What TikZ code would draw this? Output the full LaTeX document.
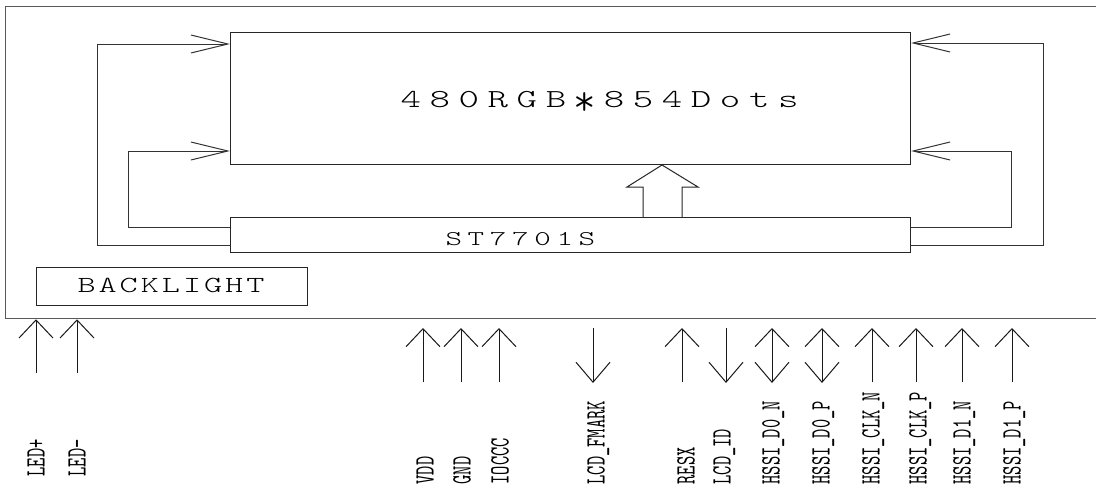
\documentclass[tikz,border=0pt]{standalone}
\usepackage{fontspec}
\usetikzlibrary{arrows.meta}
\newfontfamily\dispfam[FakeStretch=1.5,LetterSpace=33]{lmmonolt10-regular.otf}
\newfontfamily\icfam[FakeStretch=1.5,LetterSpace=27]{lmmonolt10-regular.otf}
\newfontfamily\blfam[FakeStretch=1.5,LetterSpace=13]{lmmonolt10-regular.otf}
\newfontfamily\labfam{lmmono10-regular.otf}
\begin{document}
\begin{tikzpicture}[x=1pt,y=-1pt,line width=1pt,
  box/.style={draw=black!85,inner sep=0pt,anchor=north west},
  loopline/.style={draw=black!80,-{Straight Barb[length=37pt,width=18pt]}},
  pinup/.style={draw=black!90,-{Straight Barb[length=18pt,width=34pt]}},
  pinboth/.style={draw=black!90,{Straight Barb[length=18pt,width=34pt]}-{Straight Barb[length=20pt,width=34pt]}},
  pinlabel/.style={rotate=90,anchor=base west,inner sep=0pt,font=\labfam\fontsize{28}{28}\selectfont},
  txt/.style={anchor=base west,inner sep=0pt}]
\useasboundingbox (0,0) rectangle (1096,490);
\fill[white] (0,0) rectangle (1096,490);
% boxes
\node[box,draw=black!65,line width=1.3pt,minimum width=1091pt,minimum height=312pt] (module) at (5,6) {};
\node[box,minimum width=680pt,minimum height=132pt] (panel) at (230,32) {};
\node[box,minimum width=680pt,minimum height=35pt] (ic) at (230,217) {};
\node[box,minimum width=271pt,minimum height=38pt] (bl) at (36,267) {};
% texts
\node[txt,font=\dispfam\fontsize{26}{26}\selectfont] (paneltext) at (400,107) {480RGB\kern7pt\raisebox{-8pt}{\scalebox{1.1}[1.7]{*}}\kern8pt 854Dots};
\node[txt,font=\icfam\fontsize{21}{21}\selectfont] (ictext) at (445,245) {ST7701S};
\node[txt,font=\blfam\fontsize{23}{23}\selectfont] (bltext) at (77,292) {BACKLIGHT};
% loops
\draw[loopline] (ic.west |- 0,245) -| (97,44) -- (panel.west |- 0,44);
\draw[loopline] (ic.west |- 0,227) -| (128,151) -- (panel.west |- 0,151);
\draw[loopline] (ic.east |- 0,245) -| (1043,43) -- (panel.east |- 0,43);
\draw[loopline] (ic.east |- 0,227) -| (1011,151) -- (panel.east |- 0,151);
% big data arrow
\coordinate (bigtip) at (panel.south -| 662,0);
\draw[draw=black!85] (ic.north -| 643,0) -- (643,187) -- (627,187) -- (bigtip) -- (698,187) -- (682,187) -- (ic.north -| 682,0);
% LED pins
\foreach \x/\n/\t in {36/ledp/LED+,77/ledm/LED-}{
  \coordinate (\n-a) at (\x,373);
  \coordinate (\n-b) at (module.south -| \x,0);
  \draw[pinup] (\n-a) -- (\n-b);
  \node[pinlabel] (\n-l) at (\x+8.5,477) {\scalebox{0.63}[1]{\t}};
}
% up pins
\foreach \x/\n/\t in {423/vdd/VDD,461/gnd/GND,499/ioccc/IOCCC,682/resx/RESX,872/clkn/HSSI\_CLK\_N,916/clkp/HSSI\_CLK\_P,962/donen/HSSI\_D1\_N,1012/donep/HSSI\_D1\_P}{
  \coordinate (\n-a) at (\x,382);
  \coordinate (\n-b) at (\x,328);
  \draw[pinup] (\n-a) -- (\n-b);
}
% down pins
\foreach \x/\n in {593/fmark,726/lcdid}{
  \coordinate (\n-a) at (\x,328);
  \coordinate (\n-b) at (\x,383);
  \draw[draw=black!90,-{Straight Barb[length=20pt,width=34pt]}] (\n-a) -- (\n-b);
}
% bidirectional pins
\foreach \x/\n in {772/dzn,822/dzp}{
  \coordinate (\n-a) at (\x,328);
  \coordinate (\n-b) at (\x,383);
  \draw[pinboth] (\n-a) -- (\n-b);
}
% labels
\foreach \x/\n/\t in {425/vdd/VDD,462/gnd/GND,500/ioccc/IOCCC,596/fmark/LCD\_FMARK,686/resx/RESX,722/lcdid/LCD\_ID,771/dzn/HSSI\_D0\_N,821/dzp/HSSI\_D0\_P,871/clkn/HSSI\_CLK\_N,918/clkp/HSSI\_CLK\_P,962/donen/HSSI\_D1\_N,1012/donep/HSSI\_D1\_P}{
  \node[pinlabel] (\n-l) at (\x+8.5,485) {\scalebox{0.63}[1]{\t}};
}
\end{tikzpicture}
\end{document}
